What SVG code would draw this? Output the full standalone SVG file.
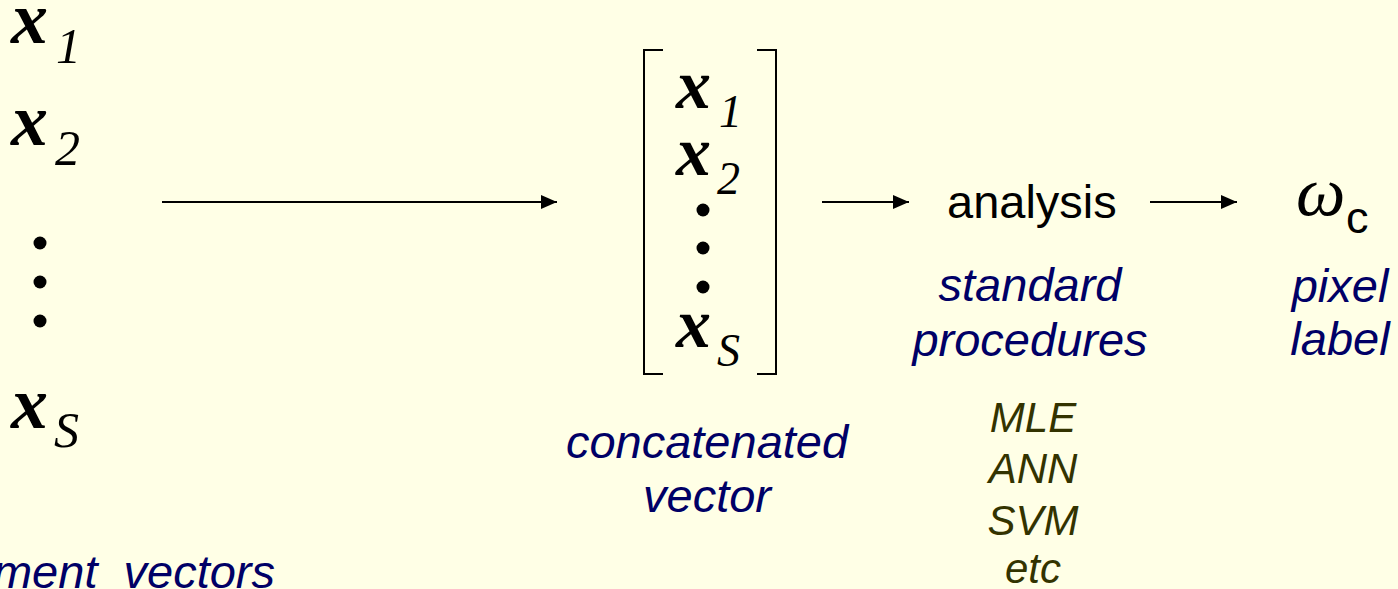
<svg xmlns="http://www.w3.org/2000/svg" width="1398" height="589" viewBox="0 0 1398 589">
  <style>
    .vx { font-family: "Liberation Serif", "Times New Roman", serif; font-weight: bold; font-style: italic; font-size: 74px; fill: #000; }
    .vx-in { font-size: 70px; }
    .sub { font-family: "Liberation Serif", "Times New Roman", serif; font-weight: normal; font-style: italic; font-size: 50px; }
    .sub-in { font-size: 46px; }
    .dot { fill: #000; }
    .note { font-family: "Liberation Sans", Arial, sans-serif; font-style: italic; font-size: 47px; fill: #000066; text-anchor: middle; }
    .method { font-family: "Liberation Sans", Arial, sans-serif; font-style: italic; font-size: 42px; fill: #333300; text-anchor: middle; }
    .plain { font-family: "Liberation Sans", Arial, sans-serif; font-size: 47px; fill: #000; }
    .bracket { fill: none; stroke: #000; stroke-width: 2; }
    .conn { stroke: #000; stroke-width: 2; fill: none; marker-end: url(#head); }
  </style>
  <defs>
    <marker id="head" markerUnits="userSpaceOnUse" markerWidth="18" markerHeight="16" refX="16" refY="7" orient="auto">
      <path d="M0,0 L16,7 L0,14 Z" fill="#000"/>
    </marker>
  </defs>

  <rect x="0" y="0" width="1398" height="589" fill="#FFFFE6"/>

  <!-- individual measurement vectors -->
  <g id="vectors">
    <text class="vx" x="11" y="43">x<tspan class="sub" x="56" y="63">1</tspan></text>
    <text class="vx" x="11" y="145">x<tspan class="sub" x="55" y="165">2</tspan></text>
    <circle class="dot" cx="40" cy="243" r="6.5"/>
    <circle class="dot" cx="40" cy="282" r="6.5"/>
    <circle class="dot" cx="40" cy="321" r="6.5"/>
    <text class="vx" x="11" y="428">x<tspan class="sub" x="54" y="447">S</tspan></text>
    <text class="note" x="275" y="588" style="text-anchor:end">ment <tspan dx="13">vectors</tspan></text>
  </g>

  <!-- stacked vector -->
  <g id="concatenated">
    <path class="bracket" d="M663,50 H644 V374 H663"/>
    <path class="bracket" d="M757,50 H776 V374 H757"/>
    <text class="vx vx-in" x="676" y="108">x<tspan class="sub sub-in" x="719" y="127">1</tspan></text>
    <text class="vx vx-in" x="676" y="175">x<tspan class="sub sub-in" x="717" y="194">2</tspan></text>
    <circle class="dot" cx="703" cy="210" r="6.5"/>
    <circle class="dot" cx="703" cy="248" r="6.5"/>
    <circle class="dot" cx="703" cy="287" r="6.5"/>
    <text class="vx vx-in" x="676" y="347">x<tspan class="sub sub-in" x="717" y="366">S</tspan></text>
    <text class="note" x="707" y="458">concatenated</text>
    <text class="note" x="707" y="512">vector</text>
  </g>

  <!-- analysis stage -->
  <g id="analysis">
    <text class="plain" x="947" y="218">analysis</text>
    <text class="note" x="1030" y="301">standard</text>
    <text class="note" x="1030" y="356">procedures</text>
    <text class="method" x="1033" y="432">MLE</text>
    <text class="method" x="1033" y="483">ANN</text>
    <text class="method" x="1033" y="535">SVM</text>
    <text class="method" x="1033" y="583">etc</text>
  </g>

  <!-- output class label -->
  <g id="label">
    <text x="1296" y="215" style="font-family:'Liberation Serif','Times New Roman',serif;font-style:italic;font-size:70px;fill:#000">ω<tspan x="1346" y="233" style="font-family:'Liberation Sans',Arial,sans-serif;font-style:normal;font-size:45px">c</tspan></text>
    <text class="note" x="1340" y="302">pixel</text>
    <text class="note" x="1340" y="355">label</text>
  </g>

  <g id="connectors">
    <line class="conn" x1="162" y1="202" x2="557" y2="202"/>
    <line class="conn" x1="822" y1="202" x2="909" y2="202"/>
    <line class="conn" x1="1150" y1="202" x2="1237" y2="202"/>
  </g>
</svg>
